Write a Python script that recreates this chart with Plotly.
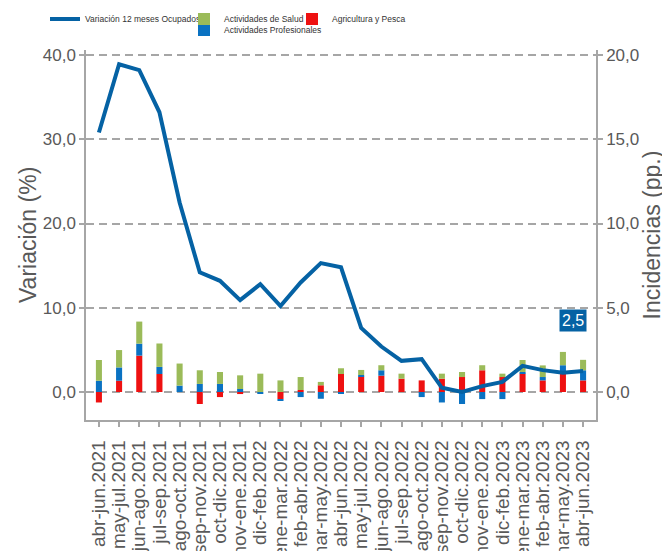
import plotly.graph_objects as go

categories = ["abr-jun.2021", "may-jul.2021", "jun-ago.2021", "jul-sep.2021", "ago-oct.2021",
              "sep-nov.2021", "oct-dic.2021", "nov-ene.2021", "dic-feb.2022", "ene-mar.2022",
              "feb-abr.2022", "mar-may.2022", "abr-jun.2022", "may-jul.2022", "jun-ago.2022",
              "jul-sep.2022", "ago-oct.2022", "sep-nov.2022", "oct-dic.2022", "nov-ene.2022",
              "dic-feb.2023", "ene-mar.2023", "feb-abr.2023", "mar-may.2023", "abr-jun.2023"]

variacion_ocupados = [30.8, 38.9, 38.2, 33.2, 22.5, 14.2, 13.2, 10.9, 12.8, 10.2, 13.0, 15.3, 14.8,
                      7.6, 5.4, 3.7, 3.9, 0.5, 0.0, 0.7, 1.2, 3.1, 2.6, 2.3, 2.5]

agricultura_pesca = [-0.62, 0.67, 2.16, 1.07, 0.0, -0.71, -0.30, -0.12, 0.0, -0.42, 0.12, 0.40, 1.07,
                     0.91, 0.97, 0.79, 0.69, 0.79, 0.89, 1.29, 0.89, 1.09, 0.69, 1.19, 0.69]
act_profesionales = [0.67, 0.79, 0.71, 0.42, 0.38, 0.48, 0.48, 0.18, -0.10, -0.10, -0.30, -0.40, -0.10,
                     0.10, 0.32, 0.0, -0.30, -0.62, -0.71, -0.42, -0.42, 0.10, 0.20, 0.40, 0.60]
act_salud = [1.23, 1.03, 1.31, 1.39, 1.31, 0.81, 0.71, 0.81, 1.09, 0.69, 0.77, 0.20, 0.34,
             0.30, 0.30, 0.30, 0.0, 0.30, 0.30, 0.30, 0.20, 0.71, 0.69, 0.79, 0.62]

LINE_C = "#0562A4"
BLUE_C = "#0A72C2"
GREEN_C = "#9BBB59"
RED_C = "#EE1111"
GRAY_T = "#595959"
AXIS_C = "#A6A6A6"
FONT = "Liberation Sans, Arial, sans-serif"

fig = go.Figure()
fig.add_trace(go.Bar(x=categories, y=agricultura_pesca, name="Agricultura y Pesca",
                     marker=dict(color=RED_C, line=dict(width=0)), width=0.3,
                     yaxis="y", legend="legend3"))
fig.add_trace(go.Bar(x=categories, y=act_profesionales, name="Actividades Profesionales",
                     marker=dict(color=BLUE_C, line=dict(width=0)), width=0.3,
                     yaxis="y", legend="legend4"))
fig.add_trace(go.Bar(x=categories, y=act_salud, name="Actividades de Salud",
                     marker=dict(color=GREEN_C, line=dict(width=0)), width=0.3,
                     yaxis="y", legend="legend2"))
fig.add_trace(go.Scatter(x=categories, y=variacion_ocupados, name="Variación 12 meses Ocupados",
                         mode="lines", line=dict(color=LINE_C, width=4),
                         yaxis="y2", legend="legend", showlegend=True))

last_txt = f"{variacion_ocupados[-1]:.1f}".replace(".", ",")
fig.add_annotation(x=categories[-1], y=variacion_ocupados[-1], xref="x", yref="y2",
                   text=last_txt, showarrow=False, yshift=50, xshift=-10,
                   bgcolor=LINE_C, font=dict(color="white", size=16, family=FONT),
                   borderpad=2)

# left axis title (overlaying axis title is misplaced by plotly, so placed as paper text)
fig.add_annotation(text="Variación (%)", xref="paper", yref="paper", x=-0.1137, y=0.5,
                   xanchor="center", yanchor="middle", textangle=-90, showarrow=False,
                   font=dict(size=23, color=GRAY_T, family=FONT))

def leg(x, y):
    return dict(orientation="v", yanchor="middle", xanchor="left", xref="container",
                yref="container", x=x, y=y, visible=True,
                bgcolor="rgba(0,0,0,0)", font=dict(family=FONT, size=8.5, color="#333333"),
                itemwidth=30, tracegroupgap=0, borderwidth=0)

fig.update_layout(
    width=670, height=551,
    margin=dict(l=78, r=82, t=42, b=139, pad=0, autoexpand=False),
    paper_bgcolor="white", plot_bgcolor="white",
    separators=", ",
    barmode="relative",
    showlegend=True,
    font=dict(family=FONT, color=GRAY_T),
    legend=leg(37 / 670, 1 - 11 / 551),
    legend2=leg(176 / 670, 1 - 11 / 551),
    legend3=leg(284 / 670, 1 - 11 / 551),
    legend4=leg(176 / 670, 1 - 22 / 551),
    xaxis=dict(type="category", range=[-0.64, 24.64], tickmode="linear", dtick=1,
               showline=True, linecolor=AXIS_C,
               linewidth=1.5, ticks="outside", ticklen=5, tickcolor=AXIS_C, tickwidth=1.5,
               tickangle=-90, tickfont=dict(size=19, color=GRAY_T, family=FONT),
               ticklabelstandoff=6,
               showgrid=False, automargin=False),
    yaxis=dict(side="right", range=[-1.66, 20.295], tickvals=[0, 5, 10, 15, 20],
               tickformat=".1f", showgrid=True, gridcolor=AXIS_C, gridwidth=1.5,
               griddash="8px,5px", zeroline=False, showline=True, linecolor=AXIS_C,
               linewidth=1.5, ticks="outside", ticklen=5, tickcolor=AXIS_C, tickwidth=1.5,
               tickfont=dict(size=17, color=GRAY_T, family=FONT),
               title=dict(text="Incidencias (pp.)", font=dict(size=23, color=GRAY_T, family=FONT),
                          standoff=5),
               automargin=True),
    yaxis2=dict(side="left", overlaying="y", anchor="x", range=[-3.32, 40.59],
                tickvals=[0, 10, 20, 30, 40],
                tickformat=".1f", showgrid=False, zeroline=False, showline=True, linecolor=AXIS_C,
                linewidth=1.5, ticks="outside", ticklen=5, tickcolor=AXIS_C, tickwidth=1.5,
                tickfont=dict(size=17, color=GRAY_T, family=FONT),
                automargin=True),
)

fig.write_html("out.html")
